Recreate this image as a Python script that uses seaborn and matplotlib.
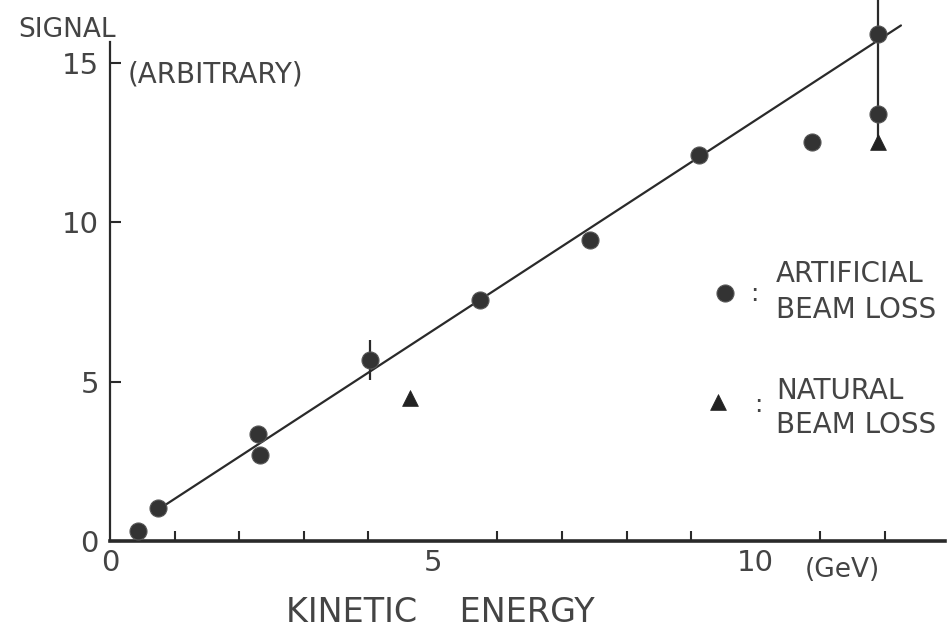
import matplotlib
matplotlib.use("Agg")
import matplotlib.pyplot as plt
import seaborn as sns
import numpy as np
import pandas as pd

# Data
art_x = [0.43, 0.74, 2.29, 2.32, 4.02, 5.73, 7.43, 9.13, 10.88, 11.89, 11.89]
art_y = [0.31, 1.03, 3.35, 2.70, 5.67, 7.55, 9.44, 12.10, 12.50, 13.40, 15.90]
nat_x = [4.64, 11.89]
nat_y = [4.48, 12.50]
fit_x = [0.75, 12.25]
fit_y = [0.99, 16.17]
err_x = [4.02, 11.89]
err_y = [5.67, 15.90]
err_lo = [0.63, 3.30]
err_hi = [0.63, 1.10]

sns.set_theme(style="white")
plt.rcParams['font.family'] = ['DejaVu Sans']

fig = plt.figure(figsize=(9.52, 6.32), dpi=100)
ax = fig.add_axes([0.1155, 0.144, 0.877, 0.7895])

ink = "#2a2a2a"
txt = "#444444"

sns.lineplot(x=fit_x, y=fit_y, ax=ax, color=ink, lw=1.6)
for l in ax.lines:
    l.set_clip_on(False)
ax.errorbar(err_x, err_y, yerr=[err_lo, err_hi], fmt="none", ecolor=ink,
            elinewidth=1.6, capsize=0, clip_on=False)
sns.scatterplot(x=art_x, y=art_y, ax=ax, marker="o", s=150, color="#333333",
                edgecolor="#555555", linewidth=0.8, zorder=5, clip_on=False)
sns.scatterplot(x=nat_x, y=nat_y, ax=ax, marker="^", s=130, color="#222222",
                edgecolor="#222222", linewidth=0.5, zorder=5, clip_on=False)

ax.set_xlim(0, 12.93)
ax.set_ylim(0, 15.65)

for s in ["top", "right"]:
    ax.spines[s].set_visible(False)
ax.spines["bottom"].set_linewidth(2.6)
ax.spines["left"].set_linewidth(1.6)
ax.spines["bottom"].set_color(ink)
ax.spines["left"].set_color(ink)

ax.set_xticks([0, 5, 10])
ax.set_xticklabels(["0", "5", "10"])
ax.set_xticks(np.arange(1, 13), minor=True)
ax.set_yticks([0, 5, 10, 15])
ax.set_yticklabels(["0", "5", "10", "15"])
ax.tick_params(axis="x", which="major", direction="in", length=14, width=1.5,
               color=ink, labelsize=21, labelcolor=txt, pad=6)
ax.tick_params(axis="x", which="minor", direction="in", length=7, width=1.5,
               color=ink, bottom=True)
ax.tick_params(axis="y", which="major", direction="in", length=8, width=1.5,
               color=ink, labelsize=21, labelcolor=txt, pad=8, left=True)

ax.set_xlabel("")
ax.set_ylabel("")

fig.text(18 / 952, 1 - 30 / 632, "SIGNAL", fontsize=19, color=txt,
         va="center", ha="left")
fig.text(128 / 952, 1 - 75 / 632, "(ARBITRARY)", fontsize=20, color=txt,
         va="center", ha="left")
fig.text(440 / 952, 1 - 612 / 632, "KINETIC    ENERGY", fontsize=24,
         color=txt, va="center", ha="center")
fig.text(805 / 952, 1 - 570 / 632, "(GeV)", fontsize=19, color=txt,
         va="center", ha="left")

# legend
leg_c = fig.add_axes([0, 0, 1, 1], facecolor="none")
leg_c.set_axis_off()
leg_c.set_xlim(0, 952)
leg_c.set_ylim(632, 0)
sns.scatterplot(x=[725], y=[293], ax=leg_c, marker="o", s=150,
                color="#333333", edgecolor="#555555", linewidth=0.8)
sns.scatterplot(x=[718], y=[402], ax=leg_c, marker="^", s=130,
                color="#222222", edgecolor="#222222", linewidth=0.5)
leg_c.text(750, 294, ":", fontsize=18, color=txt, va="center", ha="left")
leg_c.text(776, 274, "ARTIFICIAL", fontsize=20, color=txt, va="center",
           ha="left")
leg_c.text(776, 310, "BEAM LOSS", fontsize=20, color=txt, va="center",
           ha="left")
leg_c.text(754, 405, ":", fontsize=18, color=txt, va="center", ha="left")
leg_c.text(776, 391, "NATURAL", fontsize=20, color=txt, va="center",
           ha="left")
leg_c.text(776, 425, "BEAM LOSS", fontsize=20, color=txt, va="center",
           ha="left")

fig.savefig("out.png", dpi=100)
